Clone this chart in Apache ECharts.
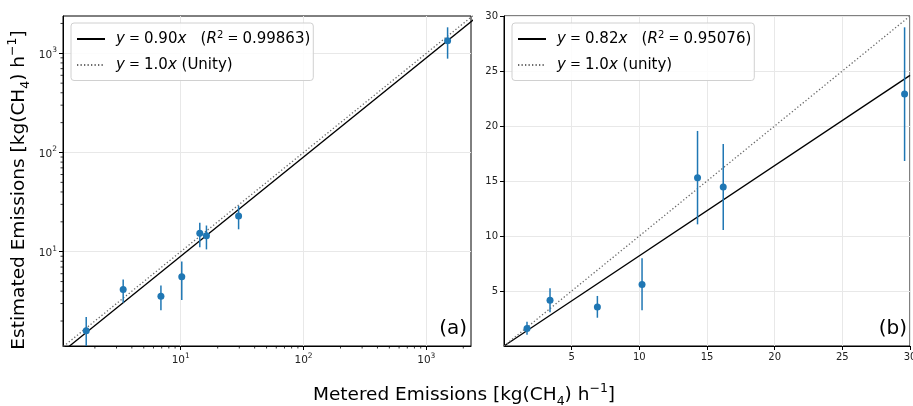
<!DOCTYPE html>
<html><head><meta charset="utf-8">
<script src="https://cdn.jsdelivr.net/npm/echarts@6/dist/echarts.min.js"></script>
<style>html,body{margin:0;padding:0;background:#fff}#c{width:913px;height:406px}</style>
</head><body><div id="c"></div>
<script>
// ---- data ----
const metered   = [1.7, 3.4, 6.9, 10.2, 14.3, 16.2, 29.6, 1490];
const estimated = [1.6, 4.15, 3.55, 5.6, 15.3, 14.45, 22.9, 1340];
const errLow    = [1.03, 3.06, 2.57, 3.25, 11.06, 10.55, 16.82, 883];
const errHigh   = [2.2, 5.25, 4.55, 7.97, 19.55, 18.36, 28.97, 1828];

// fit lines (end points) and unity lines
const fitLineA   = [[1.0, 0.90], [2500, 2250]];
const unityLineA = [[1.0, 1.0], [2500, 2500]];
const fitLineB   = [[0, 0], [30, 24.6]];
const unityLineB = [[0, 0], [30, 30]];

// axis ranges & ticks
const logXRange = [1.1, 2311];
const logYRange = [1.12, 2377];
const logMajor  = [10, 100, 1000];
const logMinorX = [2,3,4,5,6,7,8,9,20,30,40,50,60,70,80,90,200,300,400,500,600,700,800,900,2000];
const logMinorY = [2,3,4,5,6,7,8,9,20,30,40,50,60,70,80,90,200,300,400,500,600,700,800,900,2000];
const linRange  = [0, 30];

const legendText = {
  fitA:   '{i|y}{t| = }0.90{i|x}   ({i|R}{s|2}{t| = }0.99863)',
  unityA: '{i|y}{t| = }1.0{i|x} (Unity)',
  fitB:   '{i|y}{t| = }0.82{i|x}   ({i|R}{s|2}{t| = }0.95076)',
  unityB: '{i|y}{t| = }1.0{i|x} (unity)'
};

const FONT = 'DejaVu Sans';
const BLUE = '#1f77b4';
const GRIDC = '#e8e8e8';

const chart = echarts.init(document.getElementById('c'), null, {renderer: 'canvas'});

const pts = metered.map((m, i) => [m, estimated[i]]);
const bars = metered.map((m, i) => [m, errLow[i], errHigh[i]]);

function errSeries(ai) {
  return {
    type: 'custom', xAxisIndex: ai, yAxisIndex: ai, clip: true, z: 3, silent: true,
    data: bars,
    renderItem(params, api) {
      const p1 = api.coord([api.value(0), api.value(1)]);
      const p2 = api.coord([api.value(0), api.value(2)]);
      return {type: 'line', shape: {x1: p1[0], y1: p1[1], x2: p2[0], y2: p2[1]},
              style: {stroke: BLUE, lineWidth: 1.5}};
    }
  };
}
function scatterSeries(ai) {
  return {type: 'scatter', xAxisIndex: ai, yAxisIndex: ai, data: pts, clip: true, z: 4,
          symbol: 'circle', symbolSize: 7, itemStyle: {color: BLUE, opacity: 1}, silent: true};
}
function lineSeries(ai, name, data, dotted) {
  return {type: 'line', name, xAxisIndex: ai, yAxisIndex: ai, data, clip: true, z: 2,
          symbol: 'none', showSymbol: false, silent: true,
          lineStyle: dotted ? {color: '#6a6a6a', width: 1.3, type: [1.3, 2.2]} : {color: '#000', width: 1.3},
          itemStyle: {color: dotted ? '#6a6a6a' : '#000'}};
}
function minorX(ai, vals, y0) {
  return {type: 'custom', xAxisIndex: ai, yAxisIndex: ai, clip: false, silent: true, z: 5,
    data: vals.map(v => [v, y0]),
    renderItem(params, api) {
      const p = api.coord([api.value(0), api.value(1)]);
      return {type: 'line', shape: {x1: p[0], y1: p[1], x2: p[0], y2: p[1] + 2.5},
              style: {stroke: '#000', lineWidth: 0.8}};
    }};
}
function minorY(ai, vals, x0) {
  return {type: 'custom', xAxisIndex: ai, yAxisIndex: ai, clip: false, silent: true, z: 5,
    data: vals.map(v => [x0, v]),
    renderItem(params, api) {
      const p = api.coord([api.value(0), api.value(1)]);
      return {type: 'line', shape: {x1: p[0] - 2.5, y1: p[1], x2: p[0], y2: p[1]},
              style: {stroke: '#000', lineWidth: 0.8}};
    }};
}

const tickLabelStyle = {fontFamily: FONT, fontSize: 10, color: '#222'};
const logLabel = {
  ...tickLabelStyle, customValues: logMajor, margin: 6,
  formatter: v => '{b|10}{s|' + Math.round(Math.log10(v)) + '}',
  rich: {b: {fontFamily: FONT, fontSize: 10.5, color: '#222', lineHeight: 14, verticalAlign: 'bottom'},
         s: {fontFamily: FONT, fontSize: 7.5, color: '#222', lineHeight: 14, verticalAlign: 'top'}}
};
const axisLine = {show: true, onZero: false, lineStyle: {color: '#000', width: 1}};
const split = {show: true, lineStyle: {color: GRIDC, width: 1}};

const legendBase = {
  orient: 'vertical', top: 23, itemWidth: 28, itemHeight: 14, itemGap: 11,
  padding: [7, 3, 8, 5], borderColor: '#d0d0d0', borderWidth: 1, borderRadius: 3,
  backgroundColor: 'rgba(255,255,255,0.85)', selectedMode: false,
  itemStyle: {opacity: 0, borderWidth: 0},
  formatter: n => legendText[n],
  textStyle: {fontFamily: FONT, fontSize: 15, color: '#000', padding: [0, 0, 0, 6],
    rich: {i: {fontFamily: FONT, fontStyle: 'italic', fontSize: 15, color: '#000', lineHeight: 18},
           t: {fontFamily: FONT, fontSize: 13, color: '#000', lineHeight: 18},
           s: {fontFamily: FONT, fontSize: 10, color: '#000', lineHeight: 18, verticalAlign: 'top'}}}
};

const option = {
  animation: false,
  backgroundColor: '#fff',
  grid: [
    {left: 63, top: 16, width: 408, height: 330, show: true, borderColor: '#000', borderWidth: 1,
     containLabel: false, outerBoundsMode: 'none'},
    {left: 504, top: 16, width: 406, height: 330, show: true, borderColor: '#000', borderWidth: 1,
     containLabel: false, outerBoundsMode: 'none'}
  ],
  xAxis: [
    {type: 'log', logBase: 10, gridIndex: 0, min: logXRange[0], max: logXRange[1],
     axisLine, splitLine: {...split}, axisTick: {show: true, length: 4, customValues: logMajor, lineStyle: {color: '#000'}},
     axisLabel: logLabel},
    {type: 'value', gridIndex: 1, min: linRange[0], max: linRange[1], interval: 5,
     axisLine, splitLine: split, axisTick: {show: true, length: 4, lineStyle: {color: '#000'}},
     axisLabel: {...tickLabelStyle, showMinLabel: false, margin: 6}}
  ],
  yAxis: [
    {type: 'log', logBase: 10, gridIndex: 0, min: logYRange[0], max: logYRange[1],
     axisLine, splitLine: {...split}, axisTick: {show: true, length: 4, customValues: logMajor, lineStyle: {color: '#000'}},
     axisLabel: {...logLabel, margin: 6}},
    {type: 'value', gridIndex: 1, min: linRange[0], max: linRange[1], interval: 5,
     axisLine, splitLine: split, axisTick: {show: true, length: 4, lineStyle: {color: '#000'}},
     axisLabel: {...tickLabelStyle, showMinLabel: false, margin: 6}}
  ],
  legend: [
    {...legendBase, left: 71, data: ['fitA', 'unityA']},
    {...legendBase, left: 512, data: ['fitB', 'unityB']}
  ],
  series: [
    lineSeries(0, 'fitA', fitLineA, false),
    lineSeries(0, 'unityA', unityLineA, true),
    errSeries(0), scatterSeries(0),
    minorX(0, logMinorX, logYRange[0]),
    minorY(0, logMinorY, logXRange[0]),
    lineSeries(1, 'fitB', fitLineB, false),
    lineSeries(1, 'unityB', unityLineB, true),
    errSeries(1), scatterSeries(1)
  ],
  graphic: [
    {type: 'text', x: 464, y: 395,
     style: {text: 'Metered Emissions [kg(CH{sub|4}) h{sup|−1}]', fontFamily: FONT, fontSize: 18.5, fill: '#000',
       align: 'center', verticalAlign: 'middle',
       rich: {sub: {fontSize: 12.5, fontFamily: FONT, fill: '#000', verticalAlign: 'bottom', lineHeight: 26},
              sup: {fontSize: 12.5, fontFamily: FONT, fill: '#000', verticalAlign: 'top', lineHeight: 26}}}},
    {type: 'text', x: 19, y: 190, rotation: Math.PI / 2,
     style: {text: 'Estimated Emissions [kg(CH{sub|4}) h{sup|−1}]', fontFamily: FONT, fontSize: 18.5, fill: '#000',
       align: 'center', verticalAlign: 'middle',
       rich: {sub: {fontSize: 12.5, fontFamily: FONT, fill: '#000', verticalAlign: 'bottom', lineHeight: 26},
              sup: {fontSize: 12.5, fontFamily: FONT, fill: '#000', verticalAlign: 'top', lineHeight: 26}}}},
    {type: 'text', x: 467, y: 329, style: {text: '(a)', fontFamily: FONT, fontSize: 20, fill: '#000', align: 'right', verticalAlign: 'middle'}},
    {type: 'text', x: 907, y: 329, style: {text: '(b)', fontFamily: FONT, fontSize: 20, fill: '#000', align: 'right', verticalAlign: 'middle'}}
  ]
};
chart.setOption(option);
</script>
</body></html>
